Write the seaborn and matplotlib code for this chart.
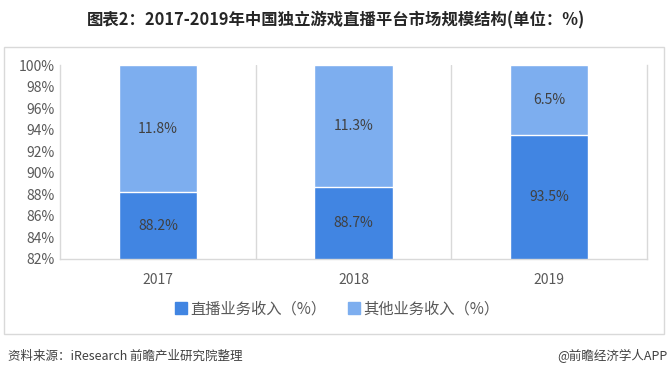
import matplotlib
matplotlib.use("Agg")
import matplotlib.pyplot as plt
from matplotlib.patches import Rectangle
from matplotlib.lines import Line2D
import seaborn as sns
import pandas as pd

years = ["2017", "2018", "2019"]
live_share = [88.2, 88.7, 93.5]
other_share = [11.8, 11.3, 6.5]
y_ticks = [82, 84, 86, 88, 90, 92, 94, 96, 98, 100]

live_name = "直播业务收入（%）"
other_name = "其他业务收入（%）"
dark = "#4185E2"
light = "#7DAEEF"
text_c = "#404040"

sns.set_theme(style="white")
plt.rcParams["font.family"] = ["Noto Sans CJK SC", "DejaVu Sans"]

df = pd.DataFrame({"year": years, "live": live_share, "other": other_share})
df["total"] = df["live"] + df["other"]

dpi = 100
fig = plt.figure(figsize=(671 / dpi, 378 / dpi), dpi=dpi)
ax = fig.add_axes([60 / 671, 1 - 259 / 378, 587 / 671, 194 / 378])

sns.barplot(data=df, x="year", y="total", color=light, width=0.4,
            saturation=1, ax=ax)
sns.barplot(data=df, x="year", y="live", color=dark, width=0.4,
            saturation=1, ax=ax)

lo = y_ticks[0]
ax.set_ylim(lo, 100)
ax.set_xlim(-0.5, 2.5)
ax.set_yticks(y_ticks)
ax.set_yticklabels([f"{t}%" for t in y_ticks], fontsize=10, color="#595959")
ax.set_xticklabels(years, fontsize=10, color="#595959")
ax.set_xlabel("")
ax.set_ylabel("")
ax.tick_params(axis="both", length=0, pad=4)
ax.tick_params(axis="x", pad=10)

for sp in ["left", "bottom", "right"]:
    ax.spines[sp].set_color("#D9D9D9")
    ax.spines[sp].set_linewidth(1)
ax.spines["top"].set_visible(False)
for xb in [0.5, 1.5]:
    ax.axvline(xb, color="#D9D9D9", lw=1, zorder=0)

for i, (lv, ot) in enumerate(zip(live_share, other_share)):
    ax.text(i, (lo + lv) / 2, f"{lv}%", ha="center", va="center",
            fontsize=10, color=text_c)
    ax.text(i, lv + ot / 2, f"{ot}%", ha="center", va="center",
            fontsize=10, color=text_c)

handles = [
    Line2D([0], [0], marker="s", linestyle="None", markersize=8,
           markerfacecolor=dark, markeredgecolor=dark, label=live_name),
    Line2D([0], [0], marker="s", linestyle="None", markersize=8,
           markerfacecolor=light, markeredgecolor=light, label=other_name),
]
fig.legend(handles=handles, loc="center", bbox_to_anchor=(0.5, 1 - 309 / 378),
           ncol=2, frameon=False, fontsize=11, handletextpad=0.0,
           handlelength=1.2, columnspacing=1.2, labelcolor="#595959")

fig.patches.append(Rectangle((4 / 671, 1 - 334 / 378), 660 / 671, 287 / 378,
                             transform=fig.transFigure, fill=False,
                             edgecolor="#D9D9D9", lw=1))

fig.text(0.5, 1 - 20 / 378, "图表2：2017-2019年中国独立游戏直播平台市场规模结构(单位：%)",
         ha="center", va="center", fontsize=11.8, fontweight="bold", color="#262626")
fig.text(8 / 671, 1 - 356 / 378, "资料来源：iResearch 前瞻产业研究院整理",
         ha="left", va="center", fontsize=9, color="#404040")
fig.text(667 / 671, 1 - 356 / 378, "@前瞻经济学人APP",
         ha="right", va="center", fontsize=9, color="#404040")

fig.savefig("out.png", dpi=dpi, facecolor="white")
